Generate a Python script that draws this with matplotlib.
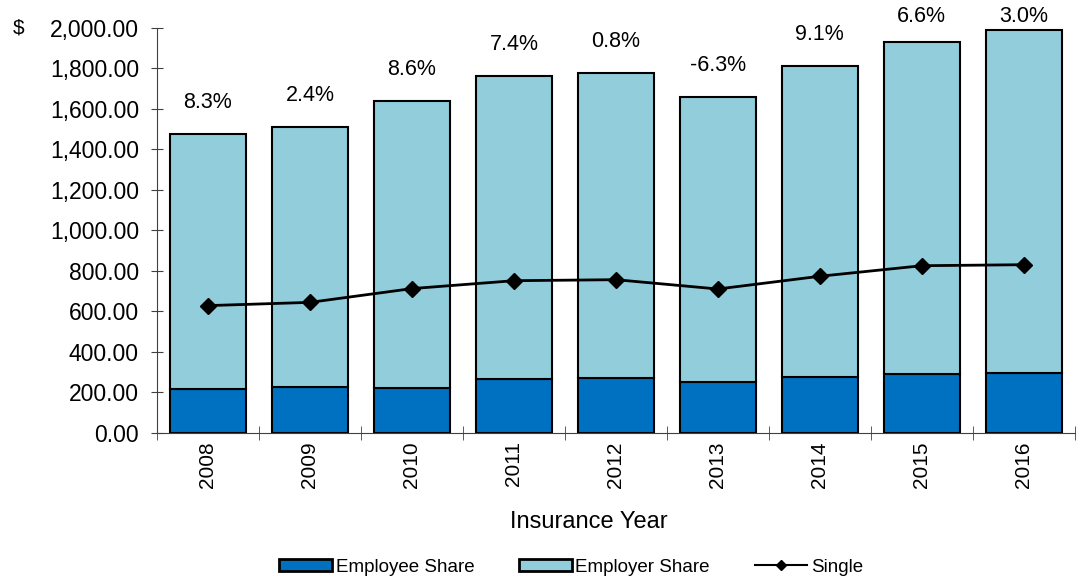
import matplotlib.pyplot as plt
from matplotlib.lines import Line2D
from matplotlib.patches import Patch
import numpy as np

plt.rcParams['font.family'] = ['Liberation Sans', 'DejaVu Sans']

# 数据
years = ['2008', '2009', '2010', '2011', '2012', '2013', '2014', '2015', '2016']
employee = [219, 229, 224, 268, 270, 252, 275, 293, 298]
total = [1476, 1511, 1641, 1762, 1776, 1661, 1812, 1931, 1988]
single = [629, 645, 713, 752, 757, 711, 774, 826, 831]
changes = ['8.3%', '2.4%', '8.6%', '7.4%', '0.8%', '-6.3%', '9.1%', '6.6%', '3.0%']

employer = [t - e for t, e in zip(total, employee)]

fig = plt.figure(figsize=(10.78, 5.78), dpi=100)
ax = fig.add_axes([0.1456, 0.2509, 0.8514, 0.7007])

x = np.arange(len(years))
ax.bar(x, employee, width=0.75, color='#0070C0', edgecolor='black', linewidth=1.5)
ax.bar(x, employer, width=0.75, bottom=employee, color='#92CDDC', edgecolor='black',
       linewidth=1.5)
ax.plot(x, single, color='black', linewidth=2, marker='D', markersize=8)

# 百分比标签
for i, t in enumerate(changes):
    ax.text(x[i], min(total[i] + 155, 2055), t, ha='center', va='center', fontsize=15.5,
            clip_on=False)

ax.set_xlim(-0.5, len(years) - 0.5)
ax.set_ylim(0, 2000)
ax.set_yticks(np.arange(0, 2001, 200))
ax.set_yticklabels(['{:,.2f}'.format(v) for v in np.arange(0, 2001, 200)], fontsize=16.5)
ax.set_xticks(x)
ax.set_xticklabels(years, rotation=90, fontsize=15)
ax.set_xticks(np.arange(-0.5, len(years)), minor=True)
ax.tick_params(axis='x', which='major', length=0, pad=6)
ax.tick_params(axis='x', which='minor', length=10, direction='inout', color='#404040')
ax.tick_params(axis='y', length=8, direction='inout', color='#404040', pad=9)

for s in ['top', 'right']:
    ax.spines[s].set_visible(False)
ax.spines['left'].set_color('#404040')
ax.spines['bottom'].set_color('#404040')

ax.set_xlabel('Insurance Year', fontsize=17)
ax.xaxis.set_label_coords(0.47, -0.193)
fig.text(0.012, 0.951, '$', fontsize=15, va='center')

# 图例
handles = [Patch(facecolor='#0070C0', edgecolor='black', linewidth=2),
           Patch(facecolor='#92CDDC', edgecolor='black', linewidth=2),
           Line2D([], [], color='black', linewidth=1.5, marker='D', markersize=5)]
labels = ['Employee Share', 'Employer Share', 'Single']
fig.legend(handles, labels, loc='lower center', bbox_to_anchor=(0.53, -0.025), ncol=3,
           frameon=False, fontsize=13.5, columnspacing=2.4, handlelength=2.8,
           handleheight=0.65, handletextpad=0.2)

plt.savefig('out.png')
